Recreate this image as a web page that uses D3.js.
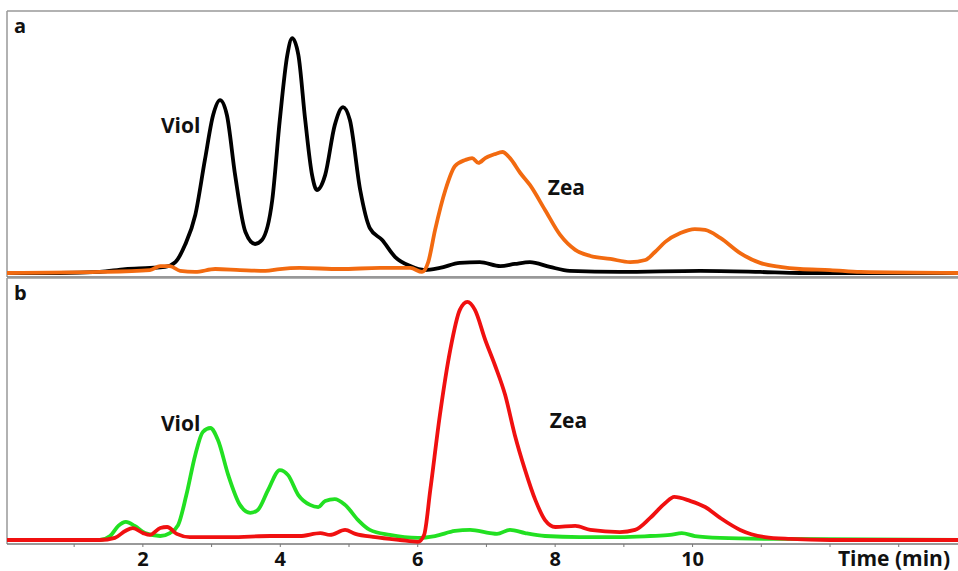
<!DOCTYPE html>
<html>
<head>
<meta charset="utf-8">
<script src="https://cdn.jsdelivr.net/npm/d3@7"></script>
<style>
  body { margin: 0; background: #fff; }
  text { font-family: "Open Sans", sans-serif; font-weight: bold; fill: #111; }
</style>
</head>
<body>
<div id="chart"></div>
<script>
// chromatogram traces, [time (min), relative intensity]
const violA = [[0.03,1.5],[0.8,1.5],[1.38,1.9],[1.75,3.0],[2.11,3.4],[2.33,3.8],[2.48,5.6],[2.62,12.0],[2.77,23.3],[2.91,44.0],[3.03,60.9],[3.13,66.5],[3.23,60.9],[3.35,38.3],[3.5,16.9],[3.64,12.4],[3.74,13.9],[3.89,28.9],[4.0,59.0],[4.11,83.5],[4.18,89.8],[4.27,83.5],[4.37,59.0],[4.47,38.3],[4.54,32.7],[4.66,38.3],[4.8,57.1],[4.92,63.9],[5.02,59.0],[5.17,32.7],[5.31,18.4],[5.49,13.9],[5.68,7.5],[5.9,4.1],[6.11,2.6],[6.33,3.4],[6.62,5.3],[6.91,5.6],[7.21,4.1],[7.42,4.9],[7.64,5.6],[7.93,3.8],[8.22,2.3],[8.95,1.9],[10.12,2.3],[10.99,1.9],[11.57,1.5],[13.87,1.5]]
const zeaA = [[0.03,1.5],[1.38,1.9],[2.11,2.6],[2.26,4.1],[2.4,4.1],[2.55,2.3],[2.77,1.9],[3.06,3.0],[3.42,2.6],[3.79,2.3],[4.0,3.0],[4.29,3.4],[4.88,3.0],[5.46,3.4],[5.9,3.4],[6.07,1.9],[6.16,5.6],[6.26,17.7],[6.41,32.7],[6.55,41.7],[6.7,44.0],[6.8,44.7],[6.89,42.9],[6.99,44.7],[7.13,46.2],[7.24,47.0],[7.35,44.7],[7.5,39.1],[7.64,34.6],[7.86,25.2],[8.08,15.8],[8.3,10.2],[8.52,7.9],[8.81,6.8],[9.1,5.6],[9.32,6.4],[9.46,9.4],[9.61,13.2],[9.83,16.5],[10.04,18.0],[10.19,17.7],[10.41,14.7],[10.7,9.0],[10.99,5.3],[11.28,3.8],[11.57,3.0],[12.01,2.6],[12.45,1.9],[13.87,1.5]]
const violB = [[0.03,1.5],[1.38,1.5],[1.53,3.0],[1.65,6.8],[1.76,8.3],[1.89,6.8],[2.04,4.1],[2.26,3.0],[2.4,4.1],[2.52,7.1],[2.64,18.4],[2.77,33.5],[2.88,42.1],[2.99,43.6],[3.1,39.1],[3.25,25.9],[3.42,14.7],[3.57,11.7],[3.68,12.8],[3.83,20.3],[4.0,27.8],[4.12,25.9],[4.27,18.4],[4.44,14.7],[4.56,13.9],[4.66,16.2],[4.8,16.9],[4.95,14.7],[5.14,9.0],[5.31,5.3],[5.6,3.4],[6.01,2.3],[6.26,3.0],[6.55,4.9],[6.77,5.3],[7.06,4.1],[7.16,3.8],[7.35,5.3],[7.57,4.1],[7.86,3.0],[8.37,2.6],[8.95,2.6],[9.39,3.0],[9.68,3.4],[9.85,4.1],[10.04,3.0],[10.41,2.3],[11.28,1.9],[13.87,1.5]]
const zeaB = [[0.03,1.5],[1.38,1.5],[1.6,2.3],[1.75,4.9],[1.86,6.0],[2.01,4.1],[2.11,3.4],[2.26,6.0],[2.36,6.4],[2.5,3.8],[2.69,2.6],[3.28,2.6],[3.86,3.0],[4.29,3.0],[4.59,4.1],[4.73,3.4],[4.95,5.3],[5.1,3.8],[5.39,2.6],[5.75,1.5],[6.01,0.8],[6.1,3.4],[6.19,20.3],[6.33,48.5],[6.48,72.9],[6.62,88.0],[6.73,91.0],[6.84,88.0],[6.99,76.7],[7.13,67.3],[7.28,56.0],[7.42,41.0],[7.57,27.8],[7.72,16.5],[7.86,9.0],[8.01,6.4],[8.3,6.8],[8.52,5.3],[8.95,4.5],[9.17,5.3],[9.39,9.8],[9.61,15.4],[9.74,17.7],[9.97,16.2],[10.19,13.9],[10.41,9.8],[10.7,5.3],[11.06,2.6],[11.43,1.9],[12.01,1.5],[13.87,1.5]]

const tickValues = [1,2,3,4,5,6,7,8,9,10,11,12,13]
const tickLabels = {2: "2", 4: "4", 6: "6", 8: "8", 10: "10"}

const width = 958, height = 571
const left = 7, right = 958

const svg = d3.select("#chart").append("svg")
    .attr("width", width)
    .attr("height", height)

const x = d3.scaleLinear().domain([0.03, 13.87]).range([left, right])

const panels = [
    {label: "a", top: 11, bottom: 277, series: [{data: violA, color: "#000"}, {data: zeaA, color: "#f26a10"}],
     names: [{text: "Viol", t: 2.27, v: 54}, {text: "Zea", t: 7.9, v: 31}]},
    {label: "b", top: 278, bottom: 544, series: [{data: violB, color: "#22e022"}, {data: zeaB, color: "#f01010"}],
     names: [{text: "Viol", t: 2.27, v: 42.5}, {text: "Zea", t: 7.93, v: 43.5}]}
]

panels.forEach(p => {
    const y = d3.scaleLinear().domain([0, 100]).range([p.bottom, p.top])
    const g = svg.append("g")

    // frame: top + left + bottom
    g.append("line").attr("x1", left).attr("x2", right).attr("y1", p.top).attr("y2", p.top)
        .attr("stroke", "#999").attr("stroke-width", 1.5)
    g.append("line").attr("x1", left).attr("x2", left).attr("y1", p.top).attr("y2", p.bottom)
        .attr("stroke", "#999").attr("stroke-width", 1.5)
    g.append("line").attr("x1", left).attr("x2", right).attr("y1", p.bottom).attr("y2", p.bottom)
        .attr("stroke", "#777").attr("stroke-width", 1.5)

    const line = d3.line()
        .x(d => x(d[0]))
        .y(d => y(d[1]))
        .curve(d3.curveMonotoneX)

    p.series.forEach(s => {
        g.append("path")
            .datum(s.data)
            .attr("fill", "none")
            .attr("stroke", s.color)
            .attr("stroke-width", 3.8)
            .attr("stroke-linejoin", "round")
            .attr("d", line)
    })

    g.append("text").attr("x", 14).attr("y", p.top + 22)
        .attr("font-size", 20).text(p.label)

    p.names.forEach(n => {
        g.append("text").attr("x", x(n.t)).attr("y", y(n.v))
            .attr("font-size", 21).text(n.text)
    })
})

const xAxis = d3.axisBottom(x)
    .tickValues(tickValues)
    .tickSize(3)
    .tickFormat(d => tickLabels[d] || "")

const axisG = svg.append("g")
    .attr("transform", "translate(0,544)")
    .call(xAxis)
axisG.select(".domain").remove()
axisG.selectAll(".tick line").attr("stroke", "#777")
axisG.selectAll(".tick text")
    .attr("font-size", 20)
    .attr("font-family", "Open Sans, sans-serif")
    .attr("font-weight", "bold")
    .attr("fill", "#111")
    .attr("dy", null)
    .attr("y", 22)

svg.append("text")
    .attr("x", 950)
    .attr("y", 566)
    .attr("text-anchor", "end")
    .attr("font-size", 21)
    .text("Time (min)")
</script>
</body>
</html>
